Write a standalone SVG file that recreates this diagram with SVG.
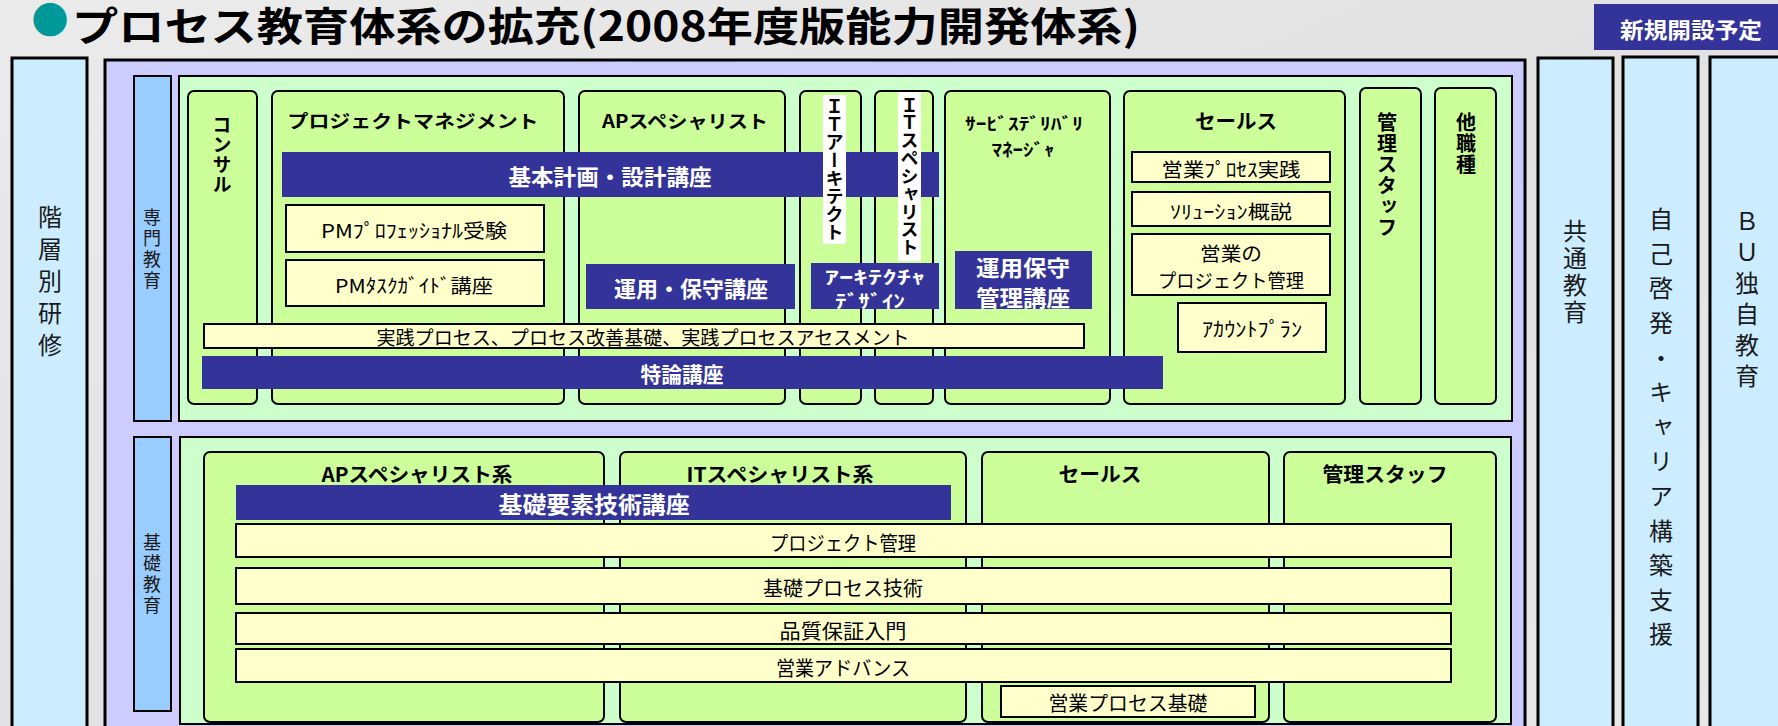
<svg xmlns="http://www.w3.org/2000/svg" width="1778" height="726" viewBox="0 0 1778 726">
<defs>
<linearGradient id="bg" x1="0" y1="0" x2="1" y2="1">
<stop offset="0" stop-color="#EBEBEB"/>
<stop offset="0.5" stop-color="#E2E2E2"/>
<stop offset="1" stop-color="#E8E8E8"/>
</linearGradient>
<style>
text{font-family:"Noto Sans CJK JP","Noto Sans",sans-serif;fill:#000;}
.side{fill:#CCECFF;stroke:#000;stroke-width:3;}
.lav{fill:#CCCCFF;stroke:#000;stroke-width:3;}
.panel{fill:#CCFFCC;stroke:#000;stroke-width:2;}
.strip{fill:#99CCFF;stroke:#000;stroke-width:2;}
.col{fill:#CCFF99;stroke:#000;stroke-width:2;}
.navy{fill:#333399;}
.cream{fill:#FFFFCC;stroke:#000;stroke-width:2;}
.white{fill:#FFFFFF;}
.vt{writing-mode:vertical-rl;}
.sidet{font-size:24px;fill:#1a1a1a;}
.stript{font-size:18px;fill:#1a1a1a;}
.h{text-anchor:middle;dominant-baseline:central;}
.b{font-weight:bold;}
.w{fill:#FFFFFF;}
.n{font-size:19px;}
.t{font-size:20px;font-weight:bold;}
</style>
</defs>
<rect x="0" y="0" width="1778" height="726" fill="url(#bg)"/>

<g id="title">
<text x="31.5" y="34" style="font-size:40px;font-weight:bold;"><tspan style="font-size:37px;fill:#009999;">●</tspan><tspan x="72" y="41" textLength="1068" lengthAdjust="spacingAndGlyphs">プロセス教育体系の拡充(2008年度版能力開発体系)</tspan></text>
</g>

<g id="shinki">
<rect x="1594" y="4" width="190" height="46" class="navy"/>
<text x="1691" y="28" class="h b w" style="font-size:22px;" textLength="142" lengthAdjust="spacingAndGlyphs">新規開設予定</text>
</g>

<g id="kaisobetsu">
<rect x="12" y="58" width="75" height="690" class="side"/>
<text x="50" y="205" class="vt sidet" style="letter-spacing:8px;">階層別研修</text>
</g>

<g id="kyotsu">
<rect x="1538" y="58" width="75" height="690" class="side"/>
<text x="1575" y="219" class="vt sidet" style="letter-spacing:3px;">共通教育</text>
</g>

<g id="jiko">
<rect x="1623" y="57" width="75" height="690" class="side"/>
<text x="1661" y="207" class="vt sidet" style="letter-spacing:10.6px;">自己啓発・キャリア構築支援</text>
</g>

<g id="bu">
<rect x="1710" y="57" width="80" height="690" class="side"/>
<text x="1747" y="209" class="vt sidet" style="letter-spacing:7px;">ＢＵ独自教育</text>
</g>

<g id="main">
<rect x="105" y="60" width="1420" height="690" class="lav"/>
</g>

<g id="senmon">
<rect x="134" y="76" width="37" height="345" class="strip"/>
<text x="152" y="208" class="vt stript" style="letter-spacing:3px;">専門教育</text>
<rect x="179" y="76" width="1333" height="345" class="panel"/>
</g>

<g id="col-consul">
<rect x="188" y="91" width="69" height="313" rx="6" class="col"/>
<text x="222" y="115" class="vt t" style="font-size:19px;letter-spacing:1px;">コンサル</text>
</g>
<g id="col-pm">
<rect x="272" y="91" width="292" height="313" rx="6" class="col"/>
<text x="413" y="120" class="h b" style="font-size:18px;" textLength="251" lengthAdjust="spacingAndGlyphs">プロジェクトマネジメント</text>
</g>
<g id="col-ap">
<rect x="579" y="91" width="206" height="313" rx="6" class="col"/>
<text x="685" y="120" class="h b" style="font-size:18px;" textLength="166" lengthAdjust="spacingAndGlyphs">APスペシャリスト</text>
</g>
<g id="col-itarch">
<rect x="800" y="91" width="61" height="313" rx="6" class="col"/>
</g>
<g id="col-itspec">
<rect x="875" y="91" width="58" height="313" rx="6" class="col"/>
</g>
<g id="col-sdm">
<rect x="945" y="91" width="165" height="313" rx="6" class="col"/>
<text x="1024" y="122" class="h b" style="font-size:17px;" textLength="118" lengthAdjust="spacingAndGlyphs">ｻｰﾋﾞｽﾃﾞﾘﾊﾞﾘ</text>
<text x="1023" y="148" class="h b" style="font-size:17px;" textLength="63" lengthAdjust="spacingAndGlyphs">ﾏﾈｰｼﾞｬ</text>
</g>
<g id="col-sales">
<rect x="1124" y="91" width="221" height="313" rx="6" class="col"/>
<text x="1236" y="120" class="h t" textLength="82" lengthAdjust="spacingAndGlyphs">セールス</text>
</g>
<g id="col-kanri">
<rect x="1360" y="88" width="61" height="316" rx="6" class="col"/>
<text x="1387" y="112" class="vt t" style="letter-spacing:1px;">管理スタッフ</text>
</g>
<g id="col-other">
<rect x="1435" y="88" width="61" height="316" rx="6" class="col"/>
<text x="1466" y="112" class="vt t" style="letter-spacing:1px;">他職種</text>
</g>

<g id="kihonkeikaku">
<rect x="282" y="152" width="657" height="45" class="navy"/>
<text x="610" y="175" class="h b w" style="font-size:22px;" textLength="203" lengthAdjust="spacingAndGlyphs">基本計画・設計講座</text>
</g>

<g id="label-itarch">
<rect x="823" y="95" width="23" height="149" class="white"/>
<text x="834.5" y="97" class="vt b" style="font-size:18px;">ＩＴアーキテクト</text>
</g>
<g id="label-itspec">
<rect x="898" y="92" width="23" height="169" class="white"/>
<text x="909.5" y="96" class="vt b" style="font-size:18px;letter-spacing:-0.2px;">ＩＴスペシャリスト</text>
</g>

<g id="pm-pro">
<rect x="286" y="205" width="258" height="47" class="cream"/>
<text x="414" y="229" class="h n" textLength="186" lengthAdjust="spacingAndGlyphs">PMﾌﾟﾛﾌｪｯｼｮﾅﾙ受験</text>
</g>
<g id="pm-task">
<rect x="286" y="260" width="258" height="46" class="cream"/>
<text x="414" y="284" class="h n" textLength="158" lengthAdjust="spacingAndGlyphs">PMﾀｽｸｶﾞｲﾄﾞ講座</text>
</g>

<g id="unyo-hoshu">
<rect x="586" y="264" width="209" height="45" class="navy"/>
<text x="691" y="287" class="h b w" style="font-size:22px;" textLength="154" lengthAdjust="spacingAndGlyphs">運用・保守講座</text>
</g>

<g id="arch-design">
<rect x="811" y="263" width="128" height="46" class="navy"/>
<text x="875" y="276" class="h b w" style="font-size:18px;" textLength="101" lengthAdjust="spacingAndGlyphs">ｱｰｷﾃｸﾁｬ</text>
<text x="870" y="300" class="h b w" style="font-size:18px;" textLength="70" lengthAdjust="spacingAndGlyphs">ﾃﾞｻﾞｲﾝ</text>
</g>

<g id="unyo-kanri">
<rect x="955" y="251" width="137" height="58" class="navy"/>
<text x="1023" y="266" class="h b w" style="font-size:22px;" textLength="94" lengthAdjust="spacingAndGlyphs">運用保守</text>
<text x="1023" y="296" class="h b w" style="font-size:22px;" textLength="94" lengthAdjust="spacingAndGlyphs">管理講座</text>
</g>

<g id="sales-jissen">
<rect x="1132" y="152" width="198" height="30" class="cream"/>
<text x="1231" y="168" class="h" style="font-size:19px;" textLength="139" lengthAdjust="spacingAndGlyphs">営業ﾌﾟﾛｾｽ実践</text>
</g>
<g id="sales-solution">
<rect x="1132" y="192" width="198" height="34" class="cream"/>
<text x="1231" y="210" class="h" style="font-size:19px;" textLength="122" lengthAdjust="spacingAndGlyphs">ｿﾘｭｰｼｮﾝ概説</text>
</g>
<g id="sales-pm">
<rect x="1132" y="234" width="198" height="61" class="cream"/>
<text x="1231" y="252" class="h" style="font-size:19px;" textLength="62" lengthAdjust="spacingAndGlyphs">営業の</text>
<text x="1231" y="279" class="h" style="font-size:19px;" textLength="146" lengthAdjust="spacingAndGlyphs">プロジェクト管理</text>
</g>
<g id="sales-account">
<rect x="1178" y="303" width="148" height="49" class="cream"/>
<text x="1252" y="328" class="h" style="font-size:20px;" textLength="100" lengthAdjust="spacingAndGlyphs">ｱｶｳﾝﾄﾌﾟﾗﾝ</text>
</g>

<g id="jissen-process">
<rect x="204" y="324" width="880" height="24" class="cream"/>
<text x="643" y="336" class="h n" textLength="533" lengthAdjust="spacingAndGlyphs">実践プロセス、プロセス改善基礎、実践プロセスアセスメント</text>
</g>
<g id="tokuron">
<rect x="202" y="356" width="961" height="33" class="navy"/>
<text x="682" y="373" class="h b w" style="font-size:21px;" textLength="83" lengthAdjust="spacingAndGlyphs">特論講座</text>
</g>

<g id="kiso">
<rect x="134" y="437" width="37" height="274" class="strip"/>
<text x="152" y="533" class="vt stript" style="letter-spacing:3px;">基礎教育</text>
<rect x="180" y="437" width="1331" height="287" class="panel"/>
</g>

<g id="low-ap">
<rect x="204" y="452" width="400" height="270" rx="6" class="col"/>
<text x="417" y="473" class="h t" textLength="191" lengthAdjust="spacingAndGlyphs">APスペシャリスト系</text>
</g>
<g id="low-it">
<rect x="620" y="452" width="346" height="270" rx="6" class="col"/>
<text x="780" y="473" class="h t" textLength="187" lengthAdjust="spacingAndGlyphs">ITスペシャリスト系</text>
</g>
<g id="low-sales">
<rect x="982" y="452" width="287" height="270" rx="6" class="col"/>
<text x="1100" y="473" class="h t" textLength="83" lengthAdjust="spacingAndGlyphs">セールス</text>
</g>
<g id="low-kanri">
<rect x="1284" y="452" width="212" height="270" rx="6" class="col"/>
<text x="1385" y="473" class="h t" textLength="125" lengthAdjust="spacingAndGlyphs">管理スタッフ</text>
</g>

<g id="kiso-yoso">
<rect x="236" y="485" width="715" height="35" class="navy"/>
<text x="594" y="503" class="h b w" style="font-size:23px;" textLength="191" lengthAdjust="spacingAndGlyphs">基礎要素技術講座</text>
</g>
<g id="bar-pm">
<rect x="236" y="524" width="1215" height="33" class="cream"/>
<text x="843" y="542" class="h" style="font-size:20px;" textLength="146" lengthAdjust="spacingAndGlyphs">プロジェクト管理</text>
</g>
<g id="bar-kiso-process">
<rect x="236" y="568" width="1215" height="36" class="cream"/>
<text x="843" y="587" class="h" style="font-size:20px;" textLength="160" lengthAdjust="spacingAndGlyphs">基礎プロセス技術</text>
</g>
<g id="bar-hinshitsu">
<rect x="236" y="613" width="1215" height="31" class="cream"/>
<text x="843" y="630" class="h" style="font-size:20px;" textLength="127" lengthAdjust="spacingAndGlyphs">品質保証入門</text>
</g>
<g id="bar-eigyo-adv">
<rect x="236" y="649" width="1215" height="33" class="cream"/>
<text x="843" y="667" class="h" style="font-size:20px;" textLength="134" lengthAdjust="spacingAndGlyphs">営業アドバンス</text>
</g>
<g id="eigyo-process-kiso">
<rect x="1001" y="686" width="254" height="31" class="cream"/>
<text x="1128" y="702" class="h" style="font-size:20px;" textLength="159" lengthAdjust="spacingAndGlyphs">営業プロセス基礎</text>
</g>

<g id="connectors"/>
</svg>
